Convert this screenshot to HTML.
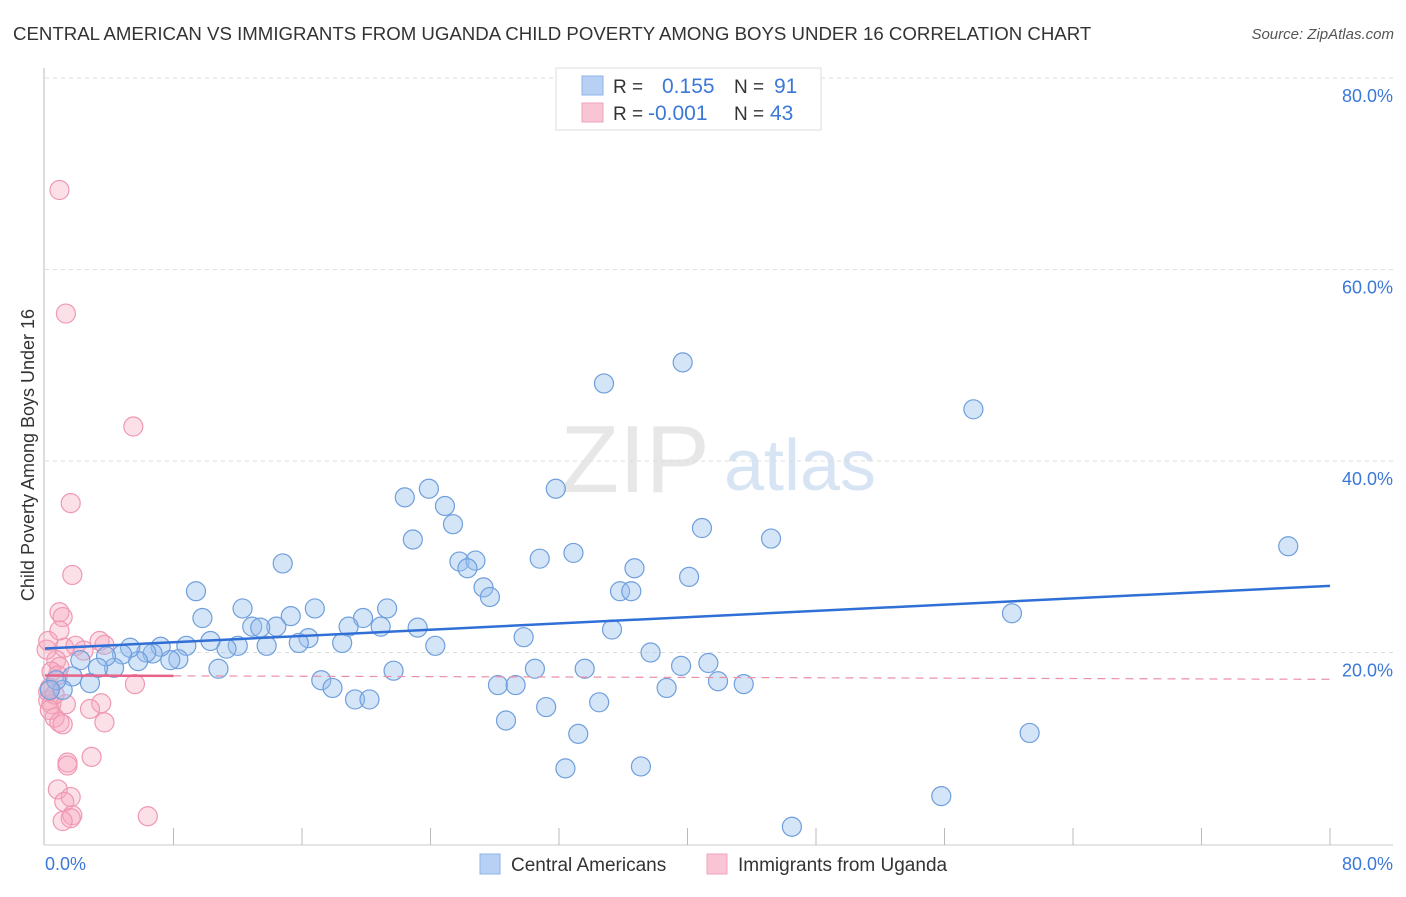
<!DOCTYPE html>
<html><head><meta charset="utf-8"><style>
body{margin:0;background:#fff;font-family:"Liberation Sans",sans-serif}
svg text{font-family:"Liberation Sans",sans-serif}
</style></head><body>
<svg width="1406" height="892" xmlns="http://www.w3.org/2000/svg">
<text x="13" y="40" font-size="18.65" fill="#333">CENTRAL AMERICAN VS IMMIGRANTS FROM UGANDA CHILD POVERTY AMONG BOYS UNDER 16 CORRELATION CHART</text>
<text x="1394" y="39" font-size="15" fill="#555" text-anchor="end" font-style="italic">Source: ZipAtlas.com</text>
<g>
<text x="635" y="492" font-size="96" fill="#ddd" font-family="Liberation Serif" text-anchor="middle" opacity="0.7">ZIP</text>
<text x="800" y="490" font-size="72" fill="#c7daf0" text-anchor="middle" opacity="0.7">atlas</text>
</g>
<g id="grid"></g>
<g id="axes"></g>
<g id="pts"></g>
<g id="trend"></g>
<text transform="translate(34,455) rotate(-90)" font-size="18" fill="#333" text-anchor="middle">Child Poverty Among Boys Under 16</text>
<text x="45" y="870" font-size="18" fill="#3c78d8">0.0%</text>
<text x="1393" y="870" font-size="18" fill="#3c78d8" text-anchor="end">80.0%</text>
<g>
<rect x="556" y="68" width="265" height="62" fill="#fff" stroke="#ddd"/>
<rect x="582" y="76" width="21" height="19" fill="#b7d0f3" stroke="#8fb3e6"/>
<rect x="582" y="103" width="21" height="19" fill="#f9c5d5" stroke="#f0a3bd"/>
<text x="613" y="93" font-size="19" fill="#333">R =</text>
<text x="662" y="93" font-size="21" fill="#3c78d8">0.155</text>
<text x="734" y="93" font-size="19" fill="#333">N =</text>
<text x="774" y="93" font-size="21" fill="#3c78d8">91</text>
<text x="613" y="120" font-size="19" fill="#333">R =</text>
<text x="648" y="120" font-size="21" fill="#3c78d8">-0.001</text>
<text x="734" y="120" font-size="19" fill="#333">N =</text>
<text x="770" y="120" font-size="21" fill="#3c78d8">43</text>
</g>
<g>
<rect x="480" y="854" width="20" height="20" fill="#b7d0f3" stroke="#8fb3e6"/>
<text x="511" y="871" font-size="19" fill="#333">Central Americans</text>
<rect x="707" y="854" width="20" height="20" fill="#f9c5d5" stroke="#f0a3bd"/>
<text x="738" y="871" font-size="19" fill="#333">Immigrants from Uganda</text>
</g>
</svg>
<script>
const yTicks=[20,40,60,80];
const yTickLabels=["20.0%","40.0%","60.0%","80.0%"];
const blueX=[39.7,34.8,57.8,77.4,60.2,61.3,55.8,46.5,45.2,40.9,40.1,31.8,32.9,30.8,36.7,35.8,36.5,35.3,37.7,39.6,41.3,41.9,43.5,38.7,33.6,34.5,33.2,32.4,37.1,29.8,30.5,31.2,28.2,29.3,28.7,22.4,23.9,24.9,25.4,22.9,25.8,26.8,26.3,27.3,27.7,21.3,19.8,20.9,23.2,24.3,21.7,16.8,14.8,15.3,14.4,12.9,13.4,12.3,16.4,15.8,18.9,18.5,17.2,17.9,19.3,20.2,13.8,12.0,11.3,10.3,9.4,9.8,10.8,8.8,8.3,7.8,7.2,6.7,6.3,5.8,5.3,4.8,4.3,3.8,3.3,2.8,2.2,1.7,1.1,0.7,0.3];
const blueY=[50.3,48.1,45.4,31.1,24.1,11.6,5.0,1.8,31.9,33.0,27.9,37.1,30.4,29.8,28.8,26.4,26.4,22.4,20.0,18.6,18.9,17.0,16.7,16.3,18.3,14.8,11.5,7.9,8.1,21.6,18.3,14.3,16.6,16.6,12.9,36.2,37.1,35.3,33.4,31.8,29.5,29.6,28.8,26.8,25.8,24.6,23.6,22.7,22.6,20.7,18.1,24.6,29.3,23.8,22.7,22.7,22.6,24.6,21.5,21.0,22.7,21.0,17.1,16.3,15.1,15.1,20.7,20.7,20.4,21.2,26.4,23.6,18.3,20.7,19.3,19.2,20.6,19.9,20.0,19.1,20.5,19.8,18.4,19.6,18.4,16.8,19.2,17.5,16.1,17.1,16.1];
const pinkX=[0.9,1.3,5.5,1.6,1.7,0.9,1.1,1.2,1.9,2.4,0.7,0.9,0.4,0.3,0.2,0.4,1.3,0.6,0.9,1.1,5.6,3.5,2.8,3.7,2.9,1.4,1.4,0.8,1.6,1.2,1.7,1.6,1.1,6.4,0.1,0.2,3.4,0.8,0.2,0.6,0.9,0.3,3.7];
const pinkY=[68.3,55.4,43.6,35.6,28.1,24.2,23.7,20.5,20.7,20.2,19.2,18.5,18.0,16.3,15.0,14.6,14.6,13.2,12.7,12.5,16.7,14.7,14.1,12.7,9.1,8.5,8.2,5.7,4.9,4.4,3.0,2.7,2.4,2.9,20.3,21.2,21.2,17.6,15.9,15.6,22.3,14.0,20.8];
const pinkTrendEnds=[17.6,17.2];
const NS="http://www.w3.org/2000/svg";
const X0=45,X1=1330,Y0=844,YS=9.575;
const sx=v=>X0+(X1-X0)*v/80, sy=v=>Y0-v*YS;
function mk(t,a,p){const e=document.createElementNS(NS,t);for(const k in a)e.setAttribute(k,a[k]);p.appendChild(e);return e;}
const grid=document.getElementById('grid');
yTicks.forEach((t,i)=>{
 const l=mk('line',{x1:45,x2:1393,y1:sy(t),y2:sy(t),stroke:'#ddd','stroke-dasharray':'4,4'},grid);
 
 
 const tx=mk('text',{x:1393,y:sy(t)+24,'font-size':18,fill:'#3c78d8','text-anchor':'end'},grid);
 tx.textContent=yTickLabels[i];
 
 
});
const ax=document.getElementById('axes');
mk('line',{x1:44,x2:44,y1:68,y2:845,stroke:'#bbb'},ax);
mk('line',{x1:44,x2:1393,y1:845,y2:845,stroke:'#ccc'},ax);
for(let i=1;i<=10;i++){const x=sx(i*8);mk('line',{x1:x,x2:x,y1:828,y2:845,stroke:'#bbb'},ax);}
const pts=document.getElementById('pts');
function draw(xs,ys,fill,stroke,name){
 xs.forEach((v,i)=>{
  const c=mk('circle',{cx:sx(v),cy:sy(ys[i]),r:9.5,fill:fill,stroke:stroke,'stroke-width':1.2},pts);
  
  
 });
}
draw(pinkX,pinkY,'rgba(245,165,190,0.35)','#ef98b3','uganda-point');
draw(blueX,blueY,'rgba(150,190,238,0.4)','#6f9fdc','central-american-point');
function fit(xs,ys){const n=xs.length;let mx=0,my=0;xs.forEach((v,i)=>{mx+=v;my+=ys[i];});mx/=n;my/=n;let sxy=0,sxx=0;xs.forEach((v,i)=>{sxy+=(v-mx)*(ys[i]-my);sxx+=(v-mx)**2;});const b=sxy/sxx;return [my-b*mx,b];}
const tr=document.getElementById('trend');
const [ba,bb]=fit(blueX,blueY);
let l=mk('line',{x1:sx(0),y1:sy(ba),x2:sx(80),y2:sy(ba+bb*80),stroke:'#2f6fd6','stroke-width':2.5},tr);


const pa=pinkTrendEnds[0], pb=(pinkTrendEnds[1]-pinkTrendEnds[0])/80;
l=mk('line',{x1:sx(0),y1:sy(pa),x2:sx(8),y2:sy(pa+pb*8),stroke:'#e8628a','stroke-width':2.5},tr);


l=mk('line',{x1:sx(8),y1:sy(pa+pb*8),x2:sx(80),y2:sy(pa+pb*80),stroke:'#eb8fab','stroke-width':1.2,'stroke-dasharray':'8,6'},tr);


</script>
</body></html>
